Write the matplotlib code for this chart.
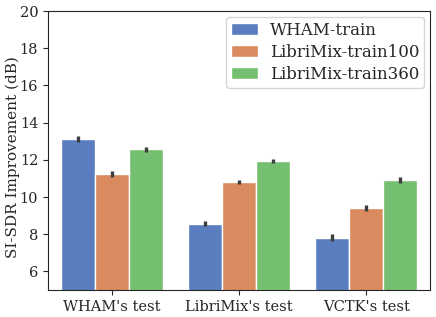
import numpy as np
import matplotlib
matplotlib.use('Agg')
import matplotlib.pyplot as plt
import seaborn as sns

sns.set_style('ticks')
plt.rcParams['font.family'] = 'DejaVu Serif'

test_sets = ["WHAM's test", "LibriMix's test", "VCTK's test"]
train_sets = ['WHAM-train', 'LibriMix-train100', 'LibriMix-train360']
# mean SI-SDRi per train set, in test set order
wham_train = [13.13, 8.56, 7.82]
libri100 = [11.24, 10.81, 9.40]
libri360 = [12.58, 11.94, 10.93]
# half-width of error bars
wham_err = [0.16, 0.14, 0.17]
libri100_err = [0.14, 0.12, 0.15]
libri360_err = [0.13, 0.11, 0.15]

colors = [sns.desaturate(c, 0.75) for c in sns.color_palette('muted', 3)]

fig = plt.figure(figsize=(4.36, 3.17), dpi=100)
ax = fig.add_axes([0.110, 0.085, 0.876, 0.880])

x = np.arange(len(test_sets))
w = 0.8 / 3
series = [wham_train, libri100, libri360]
errs = [wham_err, libri100_err, libri360_err]
for i, (vals, err) in enumerate(zip(series, errs)):
    pos = x - 0.8 / 2 + w * (i + 0.5)
    ax.bar(pos, vals, width=w, color=colors[i], edgecolor='white', linewidth=1,
           label=train_sets[i], zorder=2)
    ax.errorbar(pos, vals, yerr=err, fmt='none', ecolor='#3d3d3d', elinewidth=2.4,
                capsize=0, zorder=3)

ax.set_xlim(-0.5, 2.5)
ax.set_ylim(5, 20)
ax.set_yticks([6, 8, 10, 12, 14, 16, 18, 20])
ax.set_xticks(x)
ax.set_xticklabels(test_sets)
ax.set_ylabel('SI-SDR Improvement (dB)', fontsize=11)
ax.yaxis.set_label_coords(-0.072, 0.475)
ax.tick_params(labelsize=10.5)
ax.legend(loc='upper right', fontsize=12, handlelength=1.6, handletextpad=0.7,
          labelspacing=0.3, borderpad=0.3, borderaxespad=0.35)

fig.savefig('out.png', dpi=100)
